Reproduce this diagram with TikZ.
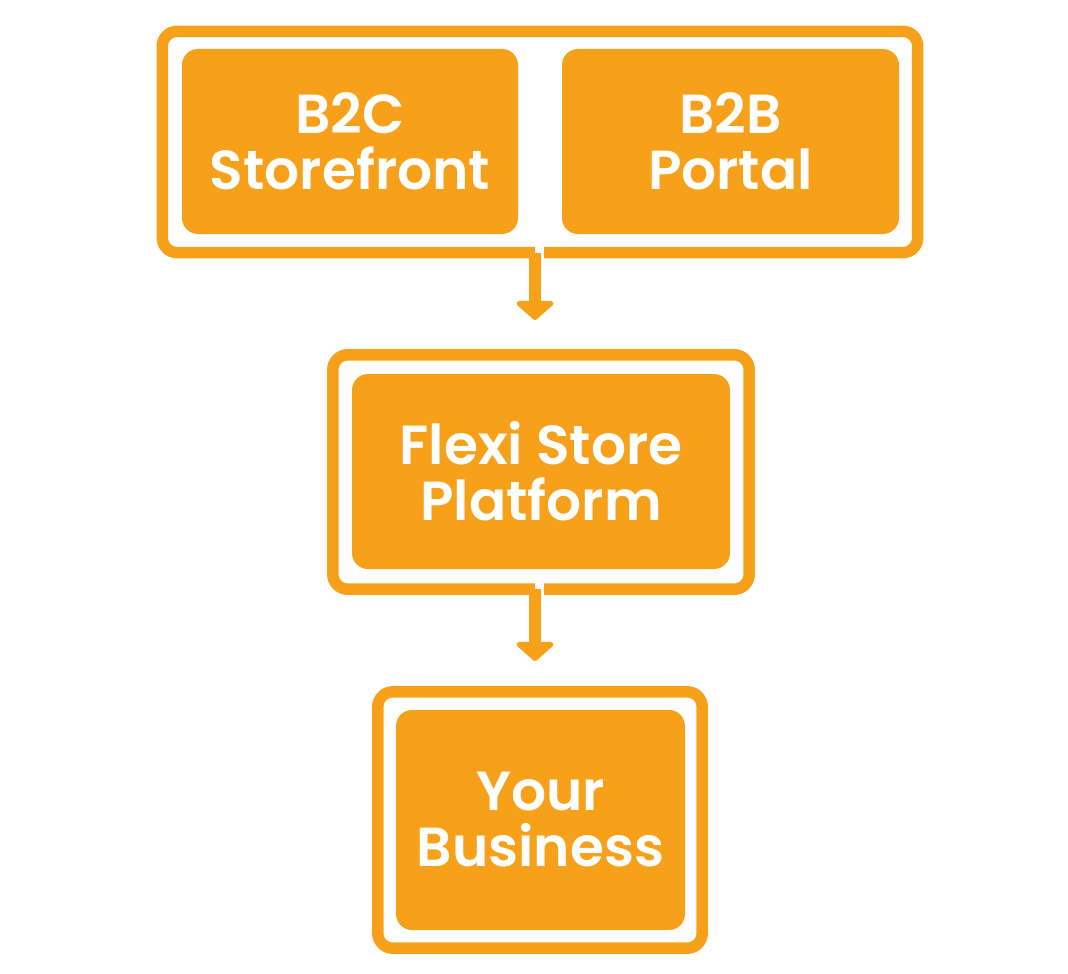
\documentclass[tikz,border=0pt]{standalone}
\usepackage{fontspec}
\setmainfont{Poppins}[BoldFont={Poppins SemiBold}]
\usetikzlibrary{arrows.meta}
\definecolor{brand}{RGB}{247,161,27}
\tikzset{
  inbox/.style={fill=brand, draw=none, rounded corners=16pt, text=white,
    font=\bfseries\fontsize{55}{56}\selectfont, align=center, inner sep=0pt},
  framebox/.style={draw=none, inner sep=0pt},
  framepath/.style={draw=brand, line width=11.5pt, rounded corners=15pt},
  flowarrow/.style={draw=brand, line width=12pt,
    -{Triangle[width=44pt,length=20pt,round]}}
}
\begin{document}
\begin{tikzpicture}[x=1pt,y=-1pt]
\useasboundingbox (0,0) rectangle (1068,974);
% inner boxes
\node[inbox, minimum width=336pt, minimum height=185pt] (b2c) at (350,141.5) {B2C\\Storefront};
\node[inbox, minimum width=337pt, minimum height=185pt] (b2b) at (730.5,141.5) {B2B\\Portal};
\node[inbox, minimum width=378pt, minimum height=195pt] (flexi) at (541,471.5) {Flexi Store\\Platform};
\node[inbox, minimum width=289pt, minimum height=220pt] (biz) at (540.5,820) {Your\\Business};
% frames
\node[framebox, minimum width=755pt, minimum height=221pt] (f1) at (540,142) {};
\node[framebox, minimum width=416pt, minimum height=234pt] (f2) at (541,472) {};
\node[framebox, minimum width=324pt, minimum height=256pt] (f3) at (540,820) {};
\coordinate (s1) at ([xshift=-5pt]f1.south);
\coordinate (s2) at ([xshift=-6pt]f2.south);
\coordinate (t1) at (535,320);
\coordinate (t2) at (535,661);
\draw[framepath] ([xshift=9pt]s1) -| (f1.north east) -| (f1.west) |- (s1);
\draw[framepath] ([xshift=9pt]s2) -| (f2.north east) -| (f2.west) |- (s2);
\draw[framepath] (f3.south west) rectangle (f3.north east);
% arrows
\draw[flowarrow] (s1) -- (t1);
\draw[flowarrow] (s2) -- (t2);
\end{tikzpicture}
\end{document}
